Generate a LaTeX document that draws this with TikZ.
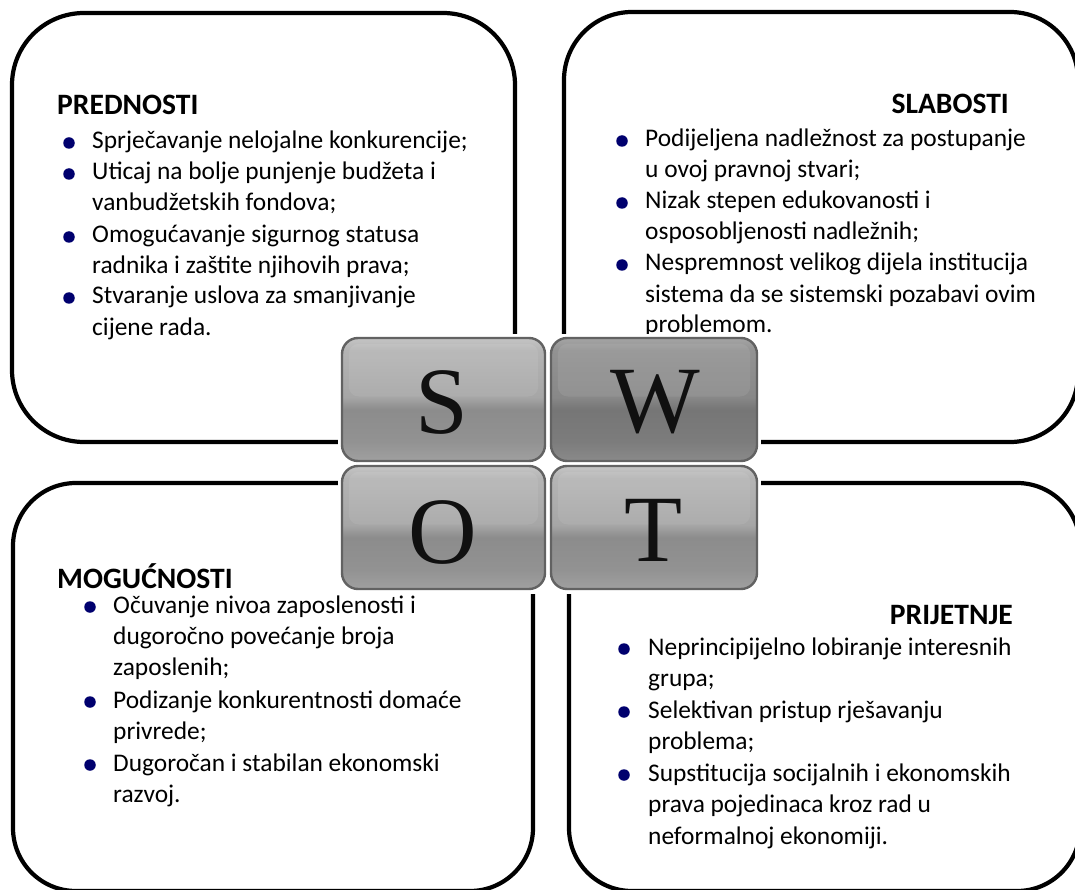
\documentclass[tikz,border=0pt]{standalone}
\usepackage{fontspec}
\setmainfont{Carlito}
\newfontfamily\tilefont{Liberation Serif}
\definecolor{navybullet}{RGB}{0,0,110}
\definecolor{tileborder}{RGB}{98,98,98}
\definecolor{tletter}{RGB}{16,16,16}
\definecolor{lA}{RGB}{160,160,160}
\definecolor{lB}{RGB}{146,146,146}
\definecolor{lC}{RGB}{140,140,140}
\definecolor{lD}{RGB}{166,166,166}
\definecolor{lE}{RGB}{180,180,180}
\definecolor{lF}{RGB}{196,196,196}
\definecolor{dA}{RGB}{138,138,138}
\definecolor{dB}{RGB}{124,124,124}
\definecolor{dC}{RGB}{118,118,118}
\definecolor{dD}{RGB}{136,136,136}
\definecolor{dE}{RGB}{146,146,146}
\definecolor{dF}{RGB}{164,164,164}
\pgfdeclareverticalshading{tilelight}{100bp}{color(0bp)=(lA); color(25bp)=(lA); color(33bp)=(lB); color(46bp)=(lC); color(51bp)=(lD); color(70bp)=(lE); color(75bp)=(lF); color(100bp)=(lF)}
\pgfdeclareverticalshading{tiledark}{100bp}{color(0bp)=(dA); color(25bp)=(dA); color(33bp)=(dB); color(46bp)=(dC); color(51bp)=(dD); color(70bp)=(dE); color(75bp)=(dF); color(100bp)=(dF)}
\tikzset{
  panel/.style={draw=black, line width=4.2pt},
  head/.style={font=\fontsize{29.6}{36}\selectfont\bfseries, inner sep=0pt},
  itemtext/.style={font=\fontsize{25.4}{31}\selectfont, anchor=base west, inner sep=0pt},
  bul/.style={circle, fill=navybullet, minimum size=11.5pt, inner sep=0pt},
  tilebox/.style={rounded corners=16pt, draw=tileborder, line width=2.4pt,
     minimum height=123pt, inner sep=0pt},
  tileletter/.style={inner sep=0pt, text=tletter, font=\tilefont\fontsize{95}{95}\selectfont},
  gloss/.style={fill=white, fill opacity=0.08, rounded corners=10pt}
}
\begin{document}
\begin{tikzpicture}[x=1pt,y=-1pt]
\useasboundingbox (0,0) rectangle (1075,890);
\clip (0,0) rectangle (1075,890);
\fill[white] (0,0) rectangle (1075,890);

% panels
\draw[panel, rounded corners=72pt] (12,13) rectangle (515,442);
\draw[panel, rounded corners=68pt] (564,12) rectangle (1078,442);
\draw[panel, rounded corners=63pt] (13,483) rectangle (533,891);
\draw[panel, rounded corners=63pt] (569,483) rectangle (1080,891);

% PREDNOSTI
\node[head, anchor=base west] (hS) at (57,114.5) {PREDNOSTI};
\node[itemtext] (s1) at (92,149) {Sprječavanje nelojalne konkurencije;};
\node[itemtext] (s2) at (92,180) {Uticaj na bolje punjenje budžeta i};
\node[itemtext] (s3) at (92,211) {vanbudžetskih fondova;};
\node[itemtext] (s4) at (92,243) {Omogućavanje sigurnog statusa};
\node[itemtext] (s5) at (92,274) {radnika i zaštite njihovih prava;};
\node[itemtext] (s6) at (92,304) {Stvaranje uslova za smanjivanje};
\node[itemtext] (s7) at (92,335) {cijene rada.};
\node[bul] (bs1) at (69,143) {};
\node[bul] (bs2) at (69,174) {};
\node[bul] (bs3) at (69,237) {};
\node[bul] (bs4) at (69,298) {};

% SLABOSTI
\node[head, anchor=base east] (hW) at (1009,114) {SLABOSTI};
\node[itemtext] (w1) at (645,147) {Podijeljena nadležnost za postupanje};
\node[itemtext] (w2) at (645,178) {u ovoj pravnoj stvari;};
\node[itemtext] (w3) at (645,209) {Nizak stepen edukovanosti i};
\node[itemtext] (w4) at (645,240) {osposobljenosti nadležnih;};
\node[itemtext] (w5) at (645,271) {Nespremnost velikog dijela institucija};
\node[itemtext] (w6) at (645,302) {sistema da se sistemski pozabavi ovim};
\node[itemtext] (w7) at (645,332) {problemom.};
\node[bul] (bw1) at (622,141) {};
\node[bul] (bw2) at (622,203) {};
\node[bul] (bw3) at (622,265) {};

% MOGUCNOSTI
\node[head, anchor=base west] (hO) at (57,588) {MOGUĆNOSTI};
\node[itemtext] (o1) at (113,613) {Očuvanje nivoa zaposlenosti i};
\node[itemtext] (o2) at (113,644) {dugoročno povećanje broja};
\node[itemtext] (o3) at (113,675) {zaposlenih;};
\node[itemtext] (o4) at (113,708) {Podizanje konkurentnosti domaće};
\node[itemtext] (o5) at (113,739) {privrede;};
\node[itemtext] (o6) at (113,771) {Dugoročan i stabilan ekonomski};
\node[itemtext] (o7) at (113,802) {razvoj.};
\node[bul] (bo1) at (90,607) {};
\node[bul] (bo2) at (90,702) {};
\node[bul] (bo3) at (90,765) {};

% PRIJETNJE
\node[head, anchor=base east] (hT) at (1013,624) {PRIJETNJE};
\node[itemtext] (t1) at (648,655) {Neprincipijelno lobiranje interesnih};
\node[itemtext] (t2) at (648,686) {grupa;};
\node[itemtext] (t3) at (648,718) {Selektivan pristup rješavanju};
\node[itemtext] (t4) at (648,749) {problema;};
\node[itemtext] (t5) at (648,781) {Supstitucija socijalnih i ekonomskih};
\node[itemtext] (t6) at (648,812) {prava pojedinaca kroz rad u};
\node[itemtext] (t7) at (648,844) {neformalnoj ekonomiji.};
\node[bul] (bt1) at (624,649) {};
\node[bul] (bt2) at (624,712) {};
\node[bul] (bt3) at (624,775) {};

% SWOT tiles
\fill[white] (338,334) rectangle (761,594);
\node[tilebox, shading=tilelight, minimum width=203pt] (tS) at (443.5,399.5) {};
\node[tilebox, shading=tiledark, minimum width=206pt] (tW) at (654,399.5) {};
\node[tilebox, shading=tilelight, minimum width=203pt] (tO) at (443.5,527.5) {};
\node[tilebox, shading=tilelight, minimum width=206pt] (tT) at (654,527.5) {};
\foreach \t in {tS,tW,tO,tT}{
  \fill[gloss] ([xshift=8pt,yshift=-7pt]\t.north west) rectangle ([xshift=-8pt,yshift=3pt]\t.east);
}
\node[tileletter] (lS) at (442,403) {S};
\node[tileletter] (lW) at (655,402) {W};
\node[tileletter] (lO) at (443,533) {O};
\node[tileletter] (lT) at (654,530) {T};
\end{tikzpicture}
\end{document}
